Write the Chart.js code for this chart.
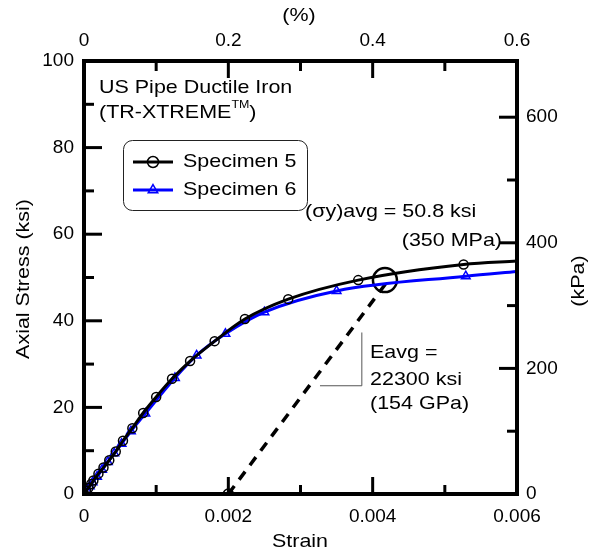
<!DOCTYPE html>
<html>
<head>
<meta charset="utf-8">
<script src="https://cdn.jsdelivr.net/npm/chart.js@4/dist/chart.umd.min.js"></script>
<style>
html,body{margin:0;padding:0;background:#fff;}
#wrap{width:590px;height:554px;position:relative;}
</style>
</head>
<body>
<div id="wrap"><canvas id="c"></canvas></div>
<script>
// ---- data ----
const strain5 = [0, 0.00003, 0.00006, 0.0001, 0.00013, 0.0002, 0.00027, 0.00035, 0.00044, 0.00054, 0.00067, 0.00082, 0.001, 0.00122, 0.00147, 0.00181, 0.00223, 0.00283, 0.0038, 0.00526, 0.006];
const stress5 = [0, 0.7, 1.4, 2.3, 3.1, 4.7, 6.1, 7.8, 9.8, 12.3, 15.2, 18.7, 22.4, 26.6, 30.7, 35.3, 40.4, 45.0, 49.4, 53.0, 53.8];
const strain6 = [0, 0.00004, 0.00008, 0.00012, 0.00018, 0.00025, 0.00033, 0.00042, 0.00052, 0.00065, 0.00085, 0.00126, 0.00156, 0.00196, 0.0025, 0.0035, 0.00529, 0.006];
const stress6 = [0, 0.9, 1.8, 2.7, 4.0, 5.6, 7.4, 9.4, 11.6, 14.5, 18.6, 26.8, 32.0, 37.0, 42.0, 46.9, 50.3, 51.4];
const offsetStrain = [0.002, 0.0042];
const offsetStress = [0, 49.0];
const yieldStrain = [0.00417];
const yieldStress = [49.4];
const slopeStrain = [0.00327, 0.00385, 0.00385];
const slopeStress = [25.0, 25.0, 37.3];
const seriesNames = ['Specimen 5', 'Specimen 6'];

const xTicks = [0, 0.002, 0.004, 0.006];
const xTickLabels = ['0', '0.002', '0.004', '0.006'];
const xMinor = [0.001, 0.003, 0.005];
const x2Ticks = [0, 0.2, 0.4, 0.6];
const x2TickLabels = ['0', '0.2', '0.4', '0.6'];
const x2Minor = [0.1, 0.3, 0.5];
const yTicks = [0, 20, 40, 60, 80, 100];
const yTickLabels = ['0', '20', '40', '60', '80', '100'];
const yMinor = [10, 30, 50, 70, 90];
const y2Ticks = [0, 200, 400, 600];
const y2TickLabels = ['0', '200', '400', '600'];
const y2Minor = [100, 300, 500];
const KSI_TO_MPA = 6.895;

const FONT = '"Liberation Sans", Arial, sans-serif';
const SX = 1.13;

function pts(xs, ys){ return xs.map((x,i)=>({x:x, y:ys[i]})); }

function txt(ctx, s, x, y, size, align, rot){
  ctx.save();
  ctx.translate(x, y);
  if (rot) ctx.rotate(rot);
  ctx.scale(SX, 1);
  ctx.font = size + 'px ' + FONT;
  ctx.fillStyle = '#000';
  ctx.textAlign = align || 'left';
  ctx.textBaseline = 'alphabetic';
  ctx.fillText(s, 0, 0);
  ctx.restore();
}
function txtW(ctx, s, size){
  ctx.save(); ctx.font = size + 'px ' + FONT; const w = ctx.measureText(s).width * SX; ctx.restore(); return w;
}

const deco = {
  id: 'deco',
  afterDraw(chart){
    const ctx = chart.ctx;
    const a = chart.chartArea;
    const sx = chart.scales.x, sy = chart.scales.y, sx2 = chart.scales.x2, sy2 = chart.scales.y2;
    ctx.save();
    ctx.strokeStyle = '#000';
    // inward ticks
    ctx.lineWidth = 3;
    ctx.lineCap = 'butt';
    function tk(x1,y1,x2,y2){ ctx.beginPath(); ctx.moveTo(x1,y1); ctx.lineTo(x2,y2); ctx.stroke(); }
    yTicks.forEach(v=>{ const p = sy.getPixelForValue(v); tk(a.left, p, a.left+18, p); });
    yMinor.forEach(v=>{ const p = sy.getPixelForValue(v); tk(a.left, p, a.left+10, p); });
    y2Ticks.forEach(v=>{ const p = sy2.getPixelForValue(v); tk(a.right, p, a.right-18, p); });
    y2Minor.forEach(v=>{ const p = sy2.getPixelForValue(v); tk(a.right, p, a.right-10, p); });
    xTicks.forEach(v=>{ const p = sx.getPixelForValue(v); tk(p, a.bottom, p, a.bottom-17); });
    xMinor.forEach(v=>{ const p = sx.getPixelForValue(v); tk(p, a.bottom, p, a.bottom-9); });
    x2Ticks.forEach(v=>{ const p = sx2.getPixelForValue(v); tk(p, a.top, p, a.top+17); });
    x2Minor.forEach(v=>{ const p = sx2.getPixelForValue(v); tk(p, a.top, p, a.top+10); });
    // frame
    ctx.lineWidth = 4;
    ctx.lineJoin = 'miter';
    ctx.strokeRect(a.left, a.top, a.right - a.left, a.bottom - a.top);

    // axis titles
    txt(ctx, '(%)', 299, 21, 19, 'center');
    txt(ctx, 'Strain', 300, 547, 19, 'center');
    txt(ctx, 'Axial Stress (ksi)', 29, 279, 19, 'center', -Math.PI/2);
    txt(ctx, '(kPa)', 584, 281, 19, 'center', -Math.PI/2);

    // title texts
    txt(ctx, 'US Pipe Ductile Iron', 99, 93, 19, 'left');
    const t1 = '(TR-XTREME';
    txt(ctx, t1, 99, 118, 19, 'left');
    const w1 = txtW(ctx, t1, 19);
    txt(ctx, 'TM', 99 + w1, 108, 11, 'left');
    const w2 = txtW(ctx, 'TM', 11);
    txt(ctx, ')', 99 + w1 + w2, 118, 19, 'left');

    // annotations
    txt(ctx, '(\u03C3y)avg = 50.8 ksi', 305, 217, 19, 'left');
    txt(ctx, '(350 MPa)', 502, 246, 19, 'right');
    txt(ctx, 'Eavg =', 370, 358, 19, 'left');
    txt(ctx, '22300 ksi', 370, 385, 19, 'left');
    txt(ctx, '(154 GPa)', 370, 409, 19, 'left');

    // legend
    ctx.lineWidth = 1;
    ctx.strokeStyle = '#222';
    ctx.beginPath();
    ctx.roundRect(123.5, 140.5, 184, 70, 9);
    ctx.stroke();
    const ds = chart.data.datasets;
    const rows = [{y:162, d:ds[0], m:ds[1]}, {y:190, d:ds[2], m:ds[3]}];
    rows.forEach((r, i)=>{
      ctx.strokeStyle = r.d.borderColor;
      ctx.lineWidth = r.d.borderWidth;
      ctx.beginPath(); ctx.moveTo(133, r.y); ctx.lineTo(173, r.y); ctx.stroke();
      ctx.lineWidth = r.m.pointBorderWidth;
      ctx.strokeStyle = r.m.pointBorderColor;
      ctx.fillStyle = 'rgba(255,255,255,0)';
      Chart.helpers.drawPoint(ctx, {pointStyle: r.m.pointStyle, radius: 5.5, borderWidth: r.m.pointBorderWidth, rotation: 0}, 153, r.y);
      txt(ctx, seriesNames[i], 183, r.y + 5, 19, 'left');
    });
    ctx.restore();
  }
};

const fixed = (h)=> (s)=>{ s.height = h; };
const fixedW = (w)=> (s)=>{ s.width = w; };
function tickSet(vals){ return (s)=>{ s.ticks = vals.map(v=>({value:v})); }; }
function labelOf(vals, labels){ return (v)=>{ const i = vals.findIndex(t=>Math.abs(t-v) < 1e-9); return i >= 0 ? labels[i] : ''; }; }
const tickFont = {family: FONT, size: 19};

new Chart(document.getElementById('c'), {
  type: 'scatter',
  data: {
    datasets: [
      { label: seriesNames[0], data: pts(strain5, stress5), showLine: true, borderColor: '#000', borderWidth: 3,
        pointRadius: 0, cubicInterpolationMode: 'monotone' },
      { label: seriesNames[0] + ' markers', data: pts(strain5.slice(0, -1), stress5.slice(0, -1)), showLine: false,
        pointStyle: 'circle', pointRadius: 4.5, pointBorderWidth: 1.5, pointBorderColor: '#000', pointBackgroundColor: 'rgba(0,0,0,0)' },
      { label: seriesNames[1], data: pts(strain6, stress6), showLine: true, borderColor: '#0000ff', borderWidth: 3,
        pointRadius: 0, cubicInterpolationMode: 'monotone' },
      { label: seriesNames[1] + ' markers', data: pts(strain6.slice(0, -1), stress6.slice(0, -1)), showLine: false,
        pointStyle: 'triangle', pointRadius: 5, pointBorderWidth: 1.5, pointBorderColor: '#0000ff', pointBackgroundColor: 'rgba(0,0,0,0)' },
      { label: 'offset', data: pts(offsetStrain, offsetStress), showLine: true, borderColor: '#000', borderWidth: 3.5,
        borderDash: [10, 8], pointRadius: [5, 0], pointBorderWidth: 1.5, pointBorderColor: '#000', pointBackgroundColor: 'rgba(0,0,0,0)' },
      { label: 'yield', data: pts(yieldStrain, yieldStress), showLine: false, pointRadius: 12, pointBorderWidth: 2.5,
        pointBorderColor: '#000', pointBackgroundColor: 'rgba(0,0,0,0)' },
      { label: 'slope', data: pts(slopeStrain, slopeStress), showLine: true, borderColor: '#555', borderWidth: 1,
        pointRadius: 0, tension: 0 }
    ]
  },
  options: {
    responsive: true,
    maintainAspectRatio: false,
    animation: false,
    events: [],
    layout: { padding: 0 },
    plugins: { legend: { display: false }, tooltip: { enabled: false } },
    scales: {
      x: { type: 'linear', position: 'bottom', min: 0, max: 0.006, afterFit: fixed(60), afterBuildTicks: tickSet(xTicks),
           grid: { display: false, drawTicks: false }, border: { display: false },
           ticks: { font: tickFont, color: '#000', padding: 11, maxRotation: 0, autoSkip: false, callback: labelOf(xTicks, xTickLabels) } },
      x2: { type: 'linear', position: 'top', min: 0, max: 0.6, afterFit: fixed(61), afterBuildTicks: tickSet(x2Ticks),
           grid: { display: false, drawTicks: false }, border: { display: false },
           ticks: { font: tickFont, color: '#000', padding: 9, maxRotation: 0, autoSkip: false, callback: labelOf(x2Ticks, x2TickLabels) } },
      y: { type: 'linear', position: 'left', min: 0, max: 100, afterFit: fixedW(84), afterBuildTicks: tickSet(yTicks),
           grid: { display: false, drawTicks: false }, border: { display: false },
           ticks: { font: tickFont, color: '#000', padding: 10, autoSkip: false, callback: labelOf(yTicks, yTickLabels) } },
      y2: { type: 'linear', position: 'right', min: 0, max: 100 * KSI_TO_MPA, afterFit: fixedW(73), afterBuildTicks: tickSet(y2Ticks),
           grid: { display: false, drawTicks: false }, border: { display: false },
           ticks: { font: tickFont, color: '#000', padding: 9, autoSkip: false, callback: labelOf(y2Ticks, y2TickLabels) } }
    }
  },
  plugins: [deco]
});
</script>
</body>
</html>
